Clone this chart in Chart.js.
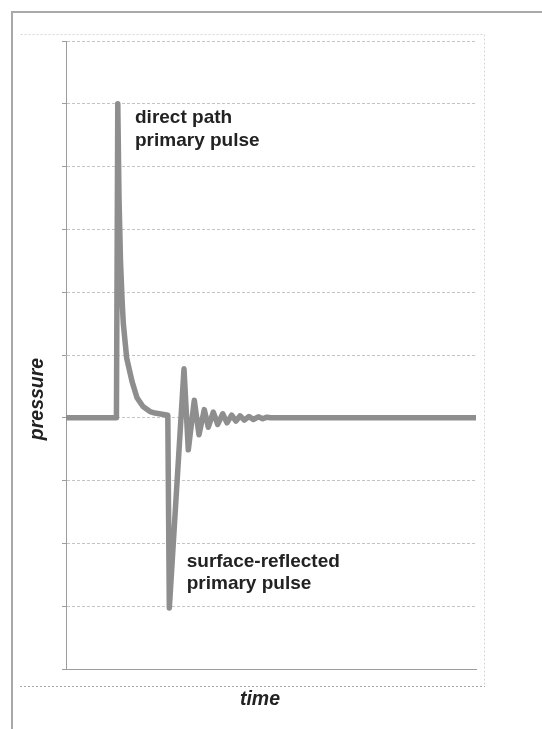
<!DOCTYPE html>
<html>
<head>
<meta charset="utf-8">
<script src="https://cdn.jsdelivr.net/npm/chart.js@4.4.1/dist/chart.umd.min.js"></script>
<style>
  html, body { margin: 0; padding: 0; background: #fff; }
  #frame { position: absolute; left: 11px; top: 11px; width: 531px; height: 718px;
           border-top: 2px solid #a9a9a9; border-left: 2px solid #a9a9a9; }
  #wrap { position: absolute; left: 0; top: 0; width: 542px; height: 729px; }
</style>
</head>
<body>
<div id="frame"></div>
<div id="wrap"><canvas id="chart"></canvas></div>
<script>
  // time in arbitrary units (axis 0..100), pressure in arbitrary units (axis -4..6)
  const timeValues = [
    0, 12.3, 12.63, 12.93, 13.29, 13.66, 13.98, 14.8, 16.1, 17.32, 18.78, 20.49, 21.71, 24.15, 24.83,
    25.2, 28.78, 29.83, 31.29, 32.44, 33.73, 34.71, 35.93, 37.0, 38.22, 39.27, 40.41,
    41.46, 42.44, 43.49, 44.63, 45.68, 46.9, 47.98, 49.0, 50.0, 100
  ];
  const pressureValues = [
    0, 0, 5.0, 3.5, 2.5, 1.9, 1.5, 0.95, 0.58, 0.32, 0.18, 0.1, 0.075, 0.05, 0.04,
    -3.03, 0.78, -0.51, 0.28, -0.27, 0.13, -0.15, 0.09, -0.106, 0.064, -0.08, 0.042,
    -0.053, 0.032, -0.037, 0.021, -0.027, 0.016, -0.016, 0.01, 0, 0
  ];
  const yTickValues = [-4, -3, -2, -1, 0, 1, 2, 3, 4, 5, 6];

  const labelFont = "bold 19px 'Liberation Sans', Arial, sans-serif";
  const titleFont = "italic bold 19.5px 'Liberation Sans', Arial, sans-serif";

  const annotations = {
    id: "annotations",
    beforeDatasetsDraw(chart) {
      const ctx = chart.ctx;
      ctx.save();
      // faint outer plot-area frame
      ctx.strokeStyle = "#d6d6d6";
      ctx.lineWidth = 1;
      ctx.setLineDash([2, 2]);
      ctx.beginPath();
      ctx.moveTo(20.5, 34.5);
      ctx.lineTo(484.5, 34.5);
      ctx.lineTo(484.5, 686.5);
      ctx.stroke();
      ctx.strokeStyle = "#a8a8a8";
      ctx.beginPath();
      ctx.moveTo(20, 686.5);
      ctx.lineTo(485, 686.5);
      ctx.stroke();
      ctx.restore();
    },
    afterDraw(chart) {
      const ctx = chart.ctx;
      const x = chart.scales.x;
      const y = chart.scales.y;
      ctx.save();
      ctx.fillStyle = "#222";
      ctx.font = labelFont;
      ctx.textAlign = "left";
      ctx.textBaseline = "alphabetic";
      ctx.fillText("direct path", x.getPixelForValue(16.83), y.getPixelForValue(4.7));
      ctx.fillText("primary pulse", x.getPixelForValue(16.83), y.getPixelForValue(4.33));
      ctx.fillText("surface-reflected", x.getPixelForValue(29.44), y.getPixelForValue(-2.38));
      ctx.fillText("primary pulse", x.getPixelForValue(29.44), y.getPixelForValue(-2.73));

      ctx.font = titleFont;
      ctx.textAlign = "center";
      ctx.textBaseline = "middle";
      ctx.fillText("time", 260, 700);
      ctx.translate(38, 399);
      ctx.rotate(-Math.PI / 2);
      ctx.fillText("pressure", 0, 0);
      ctx.restore();
    }
  };

  new Chart(document.getElementById("chart"), {
    type: "line",
    data: {
      datasets: [{
        data: timeValues.map((t, i) => ({ x: t, y: pressureValues[i] })),
        borderColor: "#8e8e8e",
        borderWidth: 5.5,
        borderJoinStyle: "round",
        borderCapStyle: "round",
        pointRadius: 0,
        tension: 0,
        fill: false
      }]
    },
    options: {
      responsive: true,
      maintainAspectRatio: false,
      animation: false,
      layout: { padding: { left: 0, right: 66, top: 41, bottom: 0 } },
      plugins: { legend: { display: false }, tooltip: { enabled: false } },
      scales: {
        x: {
          type: "linear",
          min: 0,
          max: 100,
          ticks: { display: false },
          grid: { display: false },
          border: { color: "#9c9c9c", width: 1 },
          afterFit: (s) => { s.height = 60; }
        },
        y: {
          min: -4,
          max: 6,
          afterBuildTicks: (s) => { s.ticks = yTickValues.map((v) => ({ value: v })); },
          ticks: { display: false },
          grid: { color: "#c4c4c4", lineWidth: 1, tickLength: 4, tickColor: "#9c9c9c" },
          border: { color: "#9c9c9c", width: 1, dash: [3, 2] },
          afterFit: (s) => { s.width = 66; }
        }
      }
    },
    plugins: [annotations]
  });
</script>
</body>
</html>
